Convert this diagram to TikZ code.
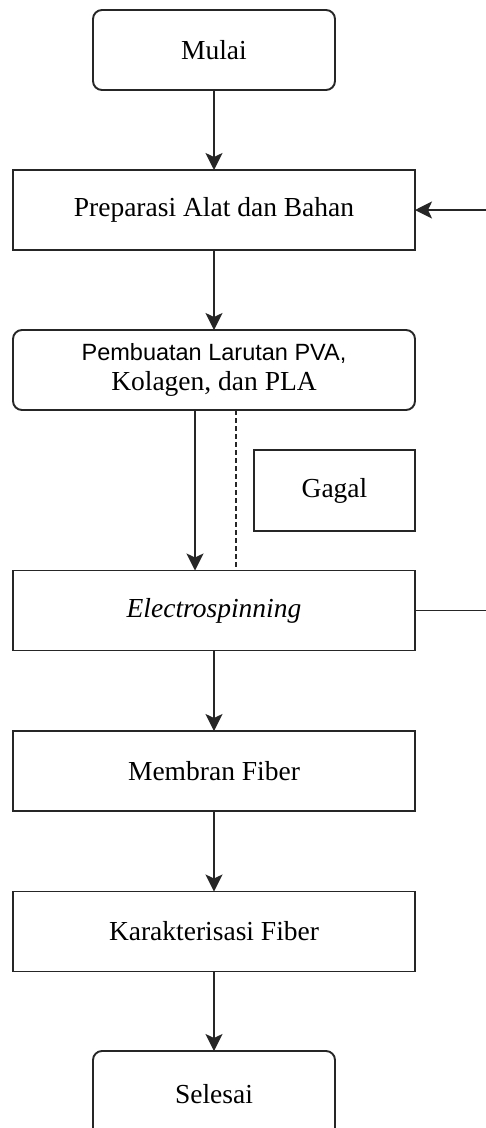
\documentclass[tikz,border=0pt]{standalone}
\usepackage{fontspec}
\setmainfont{Liberation Serif}
\newfontfamily\arialfont{Liberation Sans}
\usetikzlibrary{arrows.meta}

\begin{document}
\begin{tikzpicture}[
  x=1pt, y=-1pt,
  flowbox/.style = {draw=black!85, line width=1.9pt, inner sep=0pt, outer sep=0pt,
    minimum width=402pt, minimum height=80pt, align=center,
    font=\fontsize{27.5}{30}\selectfont},
  flowround/.style = {flowbox, rounded corners=9pt},
  flowend/.style = {flowround, minimum width=242pt},
  flowarr/.style = {-{Stealth[length=17pt, width=17pt, inset=4pt]}, line width=1.9pt, draw=black!85},
  flowline/.style = {line width=1.9pt, draw=black!85},
  flowdash/.style = {line width=1.9pt, draw=black!85, dash pattern=on 5pt off 3pt}
]
  \useasboundingbox (0,0) rectangle (486,1128);
  % langkah
  \node[flowend] (mulai) at (214,50) {Mulai};
  \node[flowbox] (preparasi) at (214,210) {Preparasi Alat dan Bahan};
  \node[flowround] (larutan) at (214,370)
    {{\arialfont\fontsize{23.5}{29}\selectfont Pembuatan Larutan PVA,}\\Kolagen, dan PLA};
  \node[flowbox, minimum width=161pt, minimum height=81pt] (gagal) at (334.5,490.5) {Gagal};
  \node[flowbox] (electro) at (214,610.5) {\itshape Electrospinning};
  \node[flowbox] (membran) at (214,771) {Membran Fiber};
  \node[flowbox] (karakter) at (214,931.5) {Karakterisasi Fiber};
  \node[flowend, minimum height=86pt] (selesai) at (214,1094) {Selesai};
  % ujung garis balik
  \coordinate (balikatas) at (490,210);
  \coordinate (balikbawah) at (490,610.5);
  % panah
  \draw[flowarr] (mulai) -- (preparasi);
  \draw[flowarr] (preparasi) -- (larutan);
  \draw[flowarr] ([xshift=-19pt]larutan.south) -- ([xshift=-19pt]electro.north);
  \draw[flowdash] ([xshift=22pt]larutan.south) -- ([xshift=22pt]electro.north);
  \draw[flowarr] (electro) -- (membran);
  \draw[flowarr] (membran) -- (karakter);
  \draw[flowarr] (karakter) -- (selesai);
  \draw[flowline] (electro.east) -- (balikbawah);
  \draw[flowarr] (balikatas) -- (preparasi.east);
\end{tikzpicture}
\end{document}
